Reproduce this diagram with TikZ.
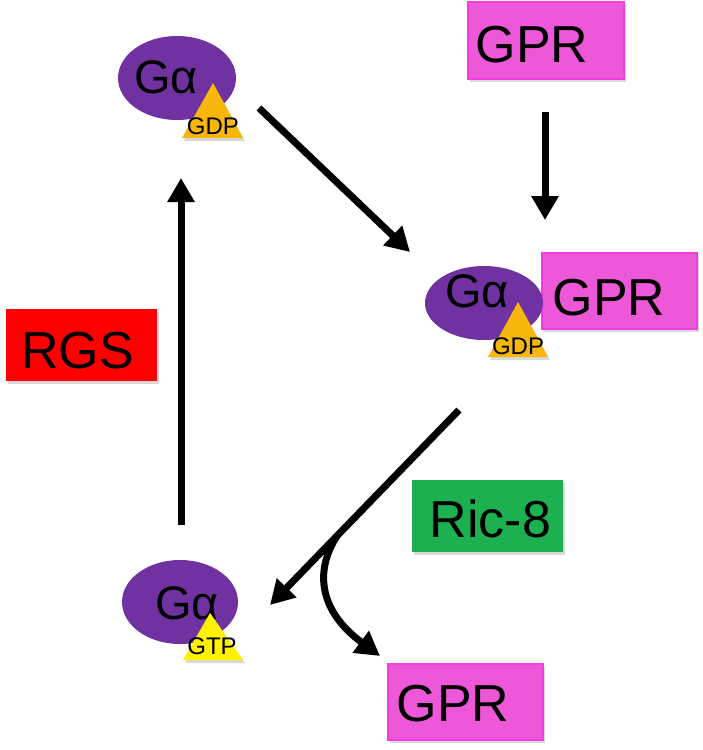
\documentclass[tikz,border=0pt]{standalone}
\usepackage{fontspec}
\setmainfont{Liberation Sans}
\usetikzlibrary{arrows.meta,shadows}
\definecolor{gpurple}{RGB}{112,50,160}
\definecolor{gpink}{RGB}{236,88,216}
\definecolor{gpinkb}{RGB}{245,60,225}
\definecolor{gorange}{RGB}{246,182,10}
\definecolor{gyellow}{RGB}{255,242,0}
\definecolor{ggreen}{RGB}{28,176,80}
\definecolor{gred}{RGB}{255,0,0}
\tikzset{
  shad/.style={drop shadow={shadow xshift=2pt, shadow yshift=-3pt, opacity=0.3}},
  bigtext/.style={font=\fontsize{52}{60}\selectfont, inner sep=0pt},
  gatext/.style={font=\fontsize{47}{54}\selectfont, inner sep=0pt},
  smalltext/.style={font=\fontsize{24}{28}\selectfont, inner sep=0pt},
  arr/.style={line width=7pt, -{Triangle[length=24pt,width=26pt]}},
}
\begin{document}
\begin{tikzpicture}[x=1pt,y=-1pt]
\useasboundingbox (0,0) rectangle (703,750);
% boxes
\fill[gpink, shad] (468,2) rectangle (624,79);
\draw[gpinkb, line width=1.5pt] (468,2) rectangle (624,79);
\node[bigtext] (gprtop) at (532,44.5) {GPR};

\fill[gpink, shad] (542,253) rectangle (697,329);
\draw[gpinkb, line width=1.5pt] (542,253) rectangle (697,329);
\node[bigtext] (gprmid) at (609,297.5) {GPR};

\fill[gpink, shad] (388,664) rectangle (543,740);
\draw[gpinkb, line width=1.5pt] (388,664) rectangle (543,740);
\node[bigtext] (gprbot) at (453,704) {GPR};

\fill[ggreen, shad] (412,480) rectangle (563,552);
\node[bigtext] (ric) at (490.5,518.5) {Ric-8};

\fill[gred, shad] (6,309) rectangle (157,381);
\node[bigtext] (rgs) at (77.5,351) {RGS};

% top G alpha
\fill[gpurple] (177,78) ellipse [x radius=59, y radius=42];
\node[gatext] (ga1) at (166,77) {Gα};
\fill[gorange, shad] (213,83) -- (243,138) -- (182,138) -- cycle;
\node[smalltext] (gdp1) at (213,126) {GDP};

% middle G alpha
\fill[gpurple] (484,303) ellipse [x radius=59, y radius=37];
\node[gatext] (ga2) at (477,291) {Gα};
\fill[gorange, shad] (518,302) -- (548,357) -- (488,357) -- cycle;
\node[smalltext] (gdp2) at (518,346) {GDP};

% bottom G alpha
\fill[gpurple] (180,602) ellipse [x radius=58, y radius=42];
\node[gatext] (ga3) at (187,603) {Gα};
\fill[gyellow, shad] (210,613) -- (243,660) -- (183,660) -- cycle;
\node[smalltext] (gtp) at (212,646) {GTP};

% arrows
\coordinate (a1s) at (545,112); \coordinate (a1e) at (545,220);
\draw[arr] (a1s) -- (a1e);
\coordinate (a2s) at (259,108); \coordinate (a2e) at (410,252);
\draw[arr] (a2s) -- (a2e);
\coordinate (a3s) at (181,525); \coordinate (a3e) at (181,178);
\draw[arr] (a3s) -- (a3e);
\coordinate (a4s) at (459,410); \coordinate (a4e) at (270,605);
\draw[arr] (a4s) -- (a4e);
\coordinate (a5s) at (337,536); \coordinate (a5e) at (380,656);
\draw[arr] (a5s) .. controls (315,570) and (318,610) .. (a5e);
\end{tikzpicture}
\end{document}
